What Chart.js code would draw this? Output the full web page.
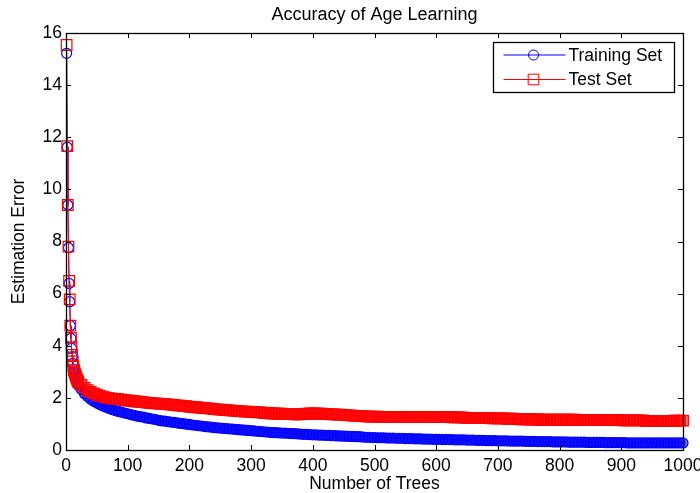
<!DOCTYPE html>
<html>
<head>
<meta charset="utf-8">
<title>Accuracy of Age Learning</title>
<script src="https://cdn.jsdelivr.net/npm/chart.js@4.4.1/dist/chart.umd.min.js"></script>
<style>
  html, body { margin: 0; padding: 0; background: #fff; }
  #wrap { width: 700px; height: 493px; position: relative; }
</style>
</head>
<body>
<div id="wrap"><canvas id="chart"></canvas></div>
<script>
  /* ============== DATA ============== */
  const TITLE = "Accuracy of Age Learning";
  const X_LABEL = "Number of Trees";
  const Y_LABEL = "Estimation Error";
  const SERIES_NAMES = ["Training Set", "Test Set"];

  // first trees, one by one
  const earlyTrees = [1, 2, 3, 4, 5, 6, 7, 8, 9, 10, 11, 12, 13, 14, 15, 16, 17, 18, 19, 20];
  const trainEarly = [15.22, 11.62, 9.40, 7.76, 6.39, 5.69, 4.77, 4.28, 3.90, 3.58,
                      3.32, 3.10, 2.98, 2.90, 2.82, 2.74, 2.66, 2.60, 2.54, 2.48];
  const testEarly = [15.54, 11.66, 9.40, 7.80, 6.49, 5.78, 4.77, 4.30, 3.95, 3.65,
                     3.40, 3.20, 3.06, 2.98, 2.90, 2.83, 2.76, 2.70, 2.65, 2.60];

  // then every 5 trees, from 25 up to 1000
  const LATE_FIRST = 25, LATE_STEP = 5;
  const trainLate = [
    2.32, 2.16, 2.05, 1.95, 1.87, 1.80, 1.74, 1.69, 1.64, 1.59,
    1.55, 1.51, 1.48, 1.45, 1.42, 1.39, 1.36, 1.33, 1.30, 1.28,
    1.26, 1.23, 1.21, 1.19, 1.17, 1.14, 1.12, 1.11, 1.09, 1.07,
    1.06, 1.04, 1.02, 1.01, 0.99, 0.98, 0.96, 0.95, 0.93, 0.92,
    0.90, 0.89, 0.88, 0.86, 0.85, 0.84, 0.83, 0.82, 0.81, 0.80,
    0.79, 0.78, 0.77, 0.76, 0.75, 0.74, 0.73, 0.72, 0.71, 0.70,
    0.69, 0.68, 0.67, 0.67, 0.66, 0.65, 0.65, 0.64, 0.63, 0.63,
    0.62, 0.61, 0.60, 0.60, 0.59, 0.58, 0.58, 0.57, 0.57, 0.56,
    0.56, 0.55, 0.55, 0.54, 0.54, 0.53, 0.53, 0.52, 0.52, 0.51,
    0.51, 0.50, 0.49, 0.49, 0.48, 0.48, 0.47, 0.47, 0.47, 0.46,
    0.46, 0.46, 0.45, 0.45, 0.45, 0.44, 0.44, 0.44, 0.43, 0.43,
    0.43, 0.42, 0.42, 0.42, 0.41, 0.41, 0.41, 0.40, 0.40, 0.40,
    0.40, 0.39, 0.39, 0.39, 0.39, 0.38, 0.38, 0.38, 0.37, 0.37,
    0.37, 0.36, 0.36, 0.36, 0.36, 0.35, 0.35, 0.35, 0.35, 0.34,
    0.34, 0.34, 0.34, 0.34, 0.33, 0.33, 0.33, 0.33, 0.32, 0.32,
    0.32, 0.32, 0.32, 0.31, 0.31, 0.31, 0.31, 0.31, 0.30, 0.30,
    0.30, 0.30, 0.30, 0.30, 0.29, 0.29, 0.29, 0.29, 0.29, 0.29,
    0.28, 0.28, 0.28, 0.28, 0.28, 0.28, 0.28, 0.27, 0.27, 0.27,
    0.27, 0.27, 0.27, 0.27, 0.27, 0.27, 0.27, 0.27, 0.27, 0.27,
    0.27, 0.27, 0.27, 0.27, 0.27, 0.27
  ];
  const testLate = [
    2.50, 2.38, 2.30, 2.23, 2.17, 2.12, 2.08, 2.05, 2.01, 1.99,
    1.97, 1.96, 1.95, 1.93, 1.91, 1.90, 1.89, 1.87, 1.86, 1.85,
    1.84, 1.82, 1.81, 1.80, 1.79, 1.78, 1.77, 1.76, 1.75, 1.74,
    1.73, 1.71, 1.70, 1.69, 1.68, 1.66, 1.65, 1.64, 1.63, 1.62,
    1.61, 1.60, 1.59, 1.57, 1.56, 1.55, 1.54, 1.53, 1.52, 1.51,
    1.50, 1.49, 1.48, 1.47, 1.47, 1.46, 1.45, 1.44, 1.44, 1.43,
    1.42, 1.41, 1.40, 1.40, 1.39, 1.39, 1.38, 1.38, 1.38, 1.37,
    1.37, 1.37, 1.38, 1.39, 1.40, 1.40, 1.40, 1.39, 1.39, 1.38,
    1.38, 1.37, 1.37, 1.36, 1.36, 1.35, 1.34, 1.33, 1.32, 1.31,
    1.30, 1.30, 1.29, 1.28, 1.28, 1.28, 1.28, 1.27, 1.27, 1.27,
    1.27, 1.27, 1.27, 1.27, 1.27, 1.26, 1.26, 1.26, 1.26, 1.26,
    1.26, 1.26, 1.26, 1.26, 1.26, 1.26, 1.26, 1.26, 1.26, 1.26,
    1.25, 1.25, 1.25, 1.25, 1.24, 1.23, 1.22, 1.22, 1.22, 1.22,
    1.22, 1.22, 1.22, 1.21, 1.21, 1.21, 1.21, 1.21, 1.20, 1.20,
    1.20, 1.19, 1.18, 1.18, 1.18, 1.18, 1.17, 1.17, 1.17, 1.16,
    1.16, 1.16, 1.16, 1.16, 1.16, 1.16, 1.16, 1.16, 1.16, 1.16,
    1.16, 1.15, 1.15, 1.15, 1.15, 1.15, 1.15, 1.15, 1.15, 1.15,
    1.15, 1.15, 1.15, 1.15, 1.15, 1.14, 1.14, 1.14, 1.14, 1.14,
    1.14, 1.14, 1.14, 1.12, 1.11, 1.11, 1.11, 1.11, 1.11, 1.11,
    1.11, 1.12, 1.13, 1.13, 1.13, 1.13
  ];

  const X_MIN = 0, X_MAX = 1000, X_STEP = 100;
  const Y_MIN = 0, Y_MAX = 16, Y_STEP = 2;

  /* ============== STYLE ============== */
  const FONT = '"Liberation Sans", Arial, Helvetica, sans-serif';
  const FONT_SIZE = 17.5;
  const TICK_LEN = 5;
  const BLUE = "#0000ff";
  const RED = "#ff0000";
  // where the markers get so dense in the original that they read as a solid band
  const DENSE_FROM = 20;

  Chart.defaults.font.family = FONT;
  Chart.defaults.color = "#000";

  /* ============== HELPERS ============== */
  function toPoints(early, late, earlyX) {
    const pts = early.map((v, i) => ({ x: earlyX[i], y: v }));
    late.forEach((v, i) => pts.push({ x: LATE_FIRST + i * LATE_STEP, y: v }));
    return pts;
  }

  function bandFill(rgba) {
    return (c) => (c.raw && c.raw.x >= DENSE_FROM ? rgba : "rgba(0,0,0,0)");
  }

  // MATLAB-like box with inward ticks on all four sides
  const frameAndTicks = {
    id: "frameAndTicks",
    afterDatasetsDraw(chart) {
      const { ctx, chartArea: a, scales: { x, y } } = chart;
      ctx.save();
      ctx.strokeStyle = "#000";
      ctx.lineWidth = 1;
      ctx.beginPath();
      x.ticks.forEach((t) => {
        const px = Math.round(x.getPixelForValue(t.value)) + 0.5;
        ctx.moveTo(px, a.bottom); ctx.lineTo(px, a.bottom - TICK_LEN);
        ctx.moveTo(px, a.top); ctx.lineTo(px, a.top + TICK_LEN);
      });
      y.ticks.forEach((t) => {
        const py = Math.round(y.getPixelForValue(t.value)) + 0.5;
        ctx.moveTo(a.left, py); ctx.lineTo(a.left + TICK_LEN, py);
        ctx.moveTo(a.right, py); ctx.lineTo(a.right - TICK_LEN, py);
      });
      ctx.stroke();
      ctx.lineWidth = 1.3;
      ctx.strokeRect(Math.round(a.left) + 0.5, Math.round(a.top) + 0.5,
        Math.round(a.right - a.left), Math.round(a.bottom - a.top));
      ctx.restore();
    },
  };

  // legend drawn as line + marker, like the MATLAB one
  const lineLegend = {
    id: "lineLegend",
    afterDraw(chart) {
      const { ctx, chartArea: a } = chart;
      const w = 181, h = 50;
      const left = Math.round(a.right - 9 - w) + 0.5;
      const top = Math.round(a.top + 9) + 0.5;
      ctx.save();
      ctx.fillStyle = "#fff";
      ctx.fillRect(left, top, w, h);
      ctx.strokeStyle = "#000";
      ctx.lineWidth = 1.3;
      ctx.strokeRect(left, top, w, h);
      chart.data.datasets.forEach((ds, i) => {
        const cy = top + 12.5 + i * 24.5;
        const mx = left + 40;
        ctx.strokeStyle = ds.borderColor;
        ctx.lineWidth = 1;
        ctx.beginPath();
        ctx.moveTo(left + 10, cy);
        ctx.lineTo(left + 72, cy);
        ctx.stroke();
        ctx.beginPath();
        if (ds.pointStyle === "rect") {
          const s = ds.pointRadius * Math.SQRT1_2;
          ctx.rect(mx - s, cy - s, 2 * s, 2 * s);
        } else {
          ctx.arc(mx, cy, ds.pointRadius, 0, Math.PI * 2);
        }
        ctx.stroke();
        ctx.fillStyle = "#000";
        ctx.font = `${FONT_SIZE}px ${FONT}`;
        ctx.textBaseline = "middle";
        ctx.textAlign = "left";
        ctx.fillText(ds.label, left + 75, cy + 1);
      });
      ctx.restore();
    },
  };

  /* ============== CHART ============== */
  new Chart(document.getElementById("chart"), {
    type: "line",
    data: {
      datasets: [
        {
          label: SERIES_NAMES[0],
          data: toPoints(trainEarly, trainLate, earlyTrees),
          borderColor: BLUE,
          borderWidth: 1,
          pointStyle: "circle",
          pointRadius: 5,
          pointBorderWidth: 1.2,
          pointBorderColor: BLUE,
          pointBackgroundColor: bandFill("rgba(0,0,255,0.55)"),
          clip: false,
          order: 2,
        },
        {
          label: SERIES_NAMES[1],
          data: toPoints(testEarly, testLate, earlyTrees),
          borderColor: RED,
          borderWidth: 1,
          pointStyle: "rect",
          pointRadius: 7.5,
          pointBorderWidth: 1.2,
          pointBorderColor: RED,
          pointBackgroundColor: bandFill("rgba(255,0,0,0.5)"),
          clip: false,
          order: 1,
        },
      ],
    },
    options: {
      responsive: true,
      maintainAspectRatio: false,
      animation: false,
      devicePixelRatio: 1,
      layout: { padding: { left: 0, right: 17, top: 0, bottom: 0 } },
      elements: { line: { tension: 0 } },
      plugins: {
        legend: { display: false },
        tooltip: { enabled: false },
        title: {
          display: true,
          text: TITLE,
          fullSize: false,
          color: "#000",
          font: { size: 18, weight: "normal", lineHeight: 1.2 },
          padding: { top: 4.7, bottom: 6.7 },
        },
      },
      scales: {
        x: {
          type: "linear",
          min: X_MIN,
          max: X_MAX,
          grid: { display: false, drawTicks: false },
          border: { display: false },
          ticks: {
            stepSize: X_STEP,
            autoSkip: false,
            maxRotation: 0,
            padding: 6,
            color: "#000",
            font: { size: FONT_SIZE },
            callback: (v) => String(v),
          },
          title: {
            display: true,
            text: X_LABEL,
            color: "#000",
            font: { size: FONT_SIZE, lineHeight: 1 },
            padding: { top: 0, bottom: 0 },
          },
          afterFit(s) {
            s.height = 43;
            s.paddingLeft = 0;
            s.paddingRight = 0;
          },
        },
        y: {
          min: Y_MIN,
          max: Y_MAX,
          grid: { display: false, drawTicks: false },
          border: { display: false },
          ticks: {
            stepSize: Y_STEP,
            padding: 4,
            color: "#000",
            font: { size: FONT_SIZE },
          },
          title: {
            display: true,
            text: Y_LABEL,
            color: "#000",
            font: { size: FONT_SIZE, lineHeight: 1 },
            padding: { top: 10, bottom: 0 },
          },
          afterFit(s) {
            s.width = 66;
            s.paddingTop = 0;
            s.paddingBottom = 0;
          },
        },
      },
    },
    plugins: [frameAndTicks, lineLegend],
  });
</script>
</body>
</html>
